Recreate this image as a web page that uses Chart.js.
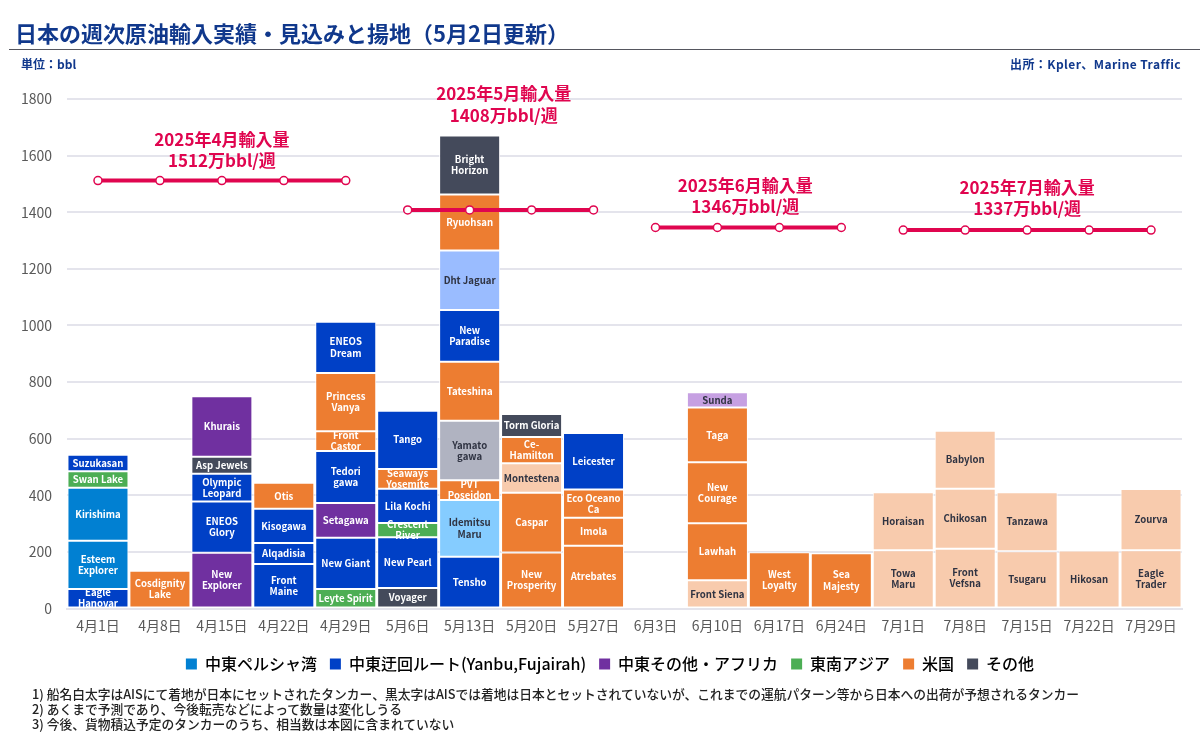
<!DOCTYPE html>
<html lang="ja">
<head>
<meta charset="utf-8">
<title>日本の週次原油輸入実績・見込みと揚地</title>
<script src="https://cdn.jsdelivr.net/npm/chart.js@4/dist/chart.umd.min.js"></script>
<style>
html,body{margin:0;padding:0;background:#fff;width:1200px;height:747px;overflow:hidden}
body{position:relative;font-family:"Noto Sans CJK JP","Noto Sans",sans-serif}
canvas{position:absolute;left:0;top:0}
.t{position:absolute;white-space:nowrap}
#title{left:15px;top:16px;font-size:22px;line-height:32px;font-weight:700;color:#10388c}
#rule{position:absolute;left:9px;right:0;top:49px;height:1px;background:#55565e}
#unit{left:21px;top:55px;font-size:12px;line-height:18px;font-weight:700;color:#10388c}
#source{right:19px;top:55px;font-size:12px;line-height:18px;font-weight:700;color:#10388c;letter-spacing:0.42px}
.note{left:32px;font-size:12.75px;line-height:15px;font-weight:500;color:#222}
</style>
</head>
<body>
<canvas id="c" width="1200" height="747"></canvas>
<div id="title" class="t">日本の週次原油輸入実績・見込みと揚地（5月2日更新）</div>
<div id="rule"></div>
<div id="unit" class="t">単位：bbl</div>
<div id="source" class="t">出所：Kpler、Marine Traffic</div>
<div class="t note" style="top:686px">1) 船名白太字はAISにて着地が日本にセットされたタンカー、黒太字はAISでは着地は日本とセットされていないが、これまでの運航パターン等から日本への出荷が予想されるタンカー</div>
<div class="t note" style="top:701px">2) あくまで予測であり、今後転売などによって数量は変化しうる</div>
<div class="t note" style="top:716px">3) 今後、貨物積込予定のタンカーのうち、相当数は本図に含まれていない</div>
<script>
const weeks = ['4月1日','4月8日','4月15日','4月22日','4月29日','5月6日','5月13日','5月20日','5月27日','6月3日','6月10日','6月17日','6月24日','7月1日','7月8日','7月15日','7月22日','7月29日'];
const yTicks = [0,200,400,600,800,1000,1200,1400,1600,1800];

const _ = null;
const layer1Values = [69,133,197,157,69,72,183,198,222,_,100,199,195,206,211,202,205,206];
const layer1Names = ['Eagle\nHanovar','Cosdignity\nLake','New\nExplorer','Front\nMaine','Leyte Spirit','Voyager','Tensho','New\nProsperity','Atrebates',_,'Front Siena','West\nLoyalty','Sea\nMajesty','Towa\nMaru','Front\nVefsna','Tsugaru','Hikosan','Eagle\nTrader'];
const layer1Groups = ['detour','us','mideast','detour','sea','other','detour','us','us',_,'usPale','us','us','usPale','usPale','usPale','usPale','usPale'];

const layer2Values = [170,_,181,74,181,180,200,211,99,_,201,_,_,205,212,209,_,216];
const layer2Names = ['Esteem\nExplorer',_,'ENEOS\nGlory','Alqadisia','New Giant','New Pearl','Idemitsu\nMaru','Caspar','Imola',_,'Lawhah',_,_,'Horaisan','Chikosan','Tanzawa',_,'Zourva'];
const layer2Groups = ['gulf',_,'detour','detour','detour','detour','gulfPale','us','us',_,'us',_,_,'usPale','usPale','usPale',_,'usPale'];

const layer3Values = [188,_,98,121,123,50,70,104,99,_,216,_,_,_,205,_,_,_];
const layer3Names = ['Kirishima',_,'Olympic\nLeopard','Kisogawa','Setagawa','Crescent\nRiver','PVT\nPoseidon','Montestena','Eco Oceano\nCa',_,'New\nCourage',_,_,_,'Babylon',_,_,_];
const layer3Groups = ['gulf',_,'detour','detour','mideast','sea','us','usPale','us',_,'us',_,_,_,'usPale',_,_,_];

const layer4Values = [58,_,60,92,183,121,210,93,200,_,193,_,_,_,_,_,_,_];
const layer4Names = ['Swan Lake',_,'Asp Jewels','Otis','Tedori\ngawa','Lila Kochi','Yamato\ngawa','Ce-\nHamilton','Leicester',_,'Taga',_,_,_,_,_,_,_];
const layer4Groups = ['sea',_,'other','us','detour','detour','otherPale','us','detour',_,'us',_,_,_,_,_,_,_];

const layer5Values = [58,_,214,_,70,70,209,81,_,_,54,_,_,_,_,_,_,_];
const layer5Names = ['Suzukasan',_,'Khurais',_,'Front\nCastor','Seaways\nYosemite','Tateshina','Torm Gloria',_,_,'Sunda',_,_,_,_,_,_,_];
const layer5Groups = ['detour',_,'mideast',_,'us','us','us','other',_,_,'mideastPale',_,_,_,_,_,_,_];

const layer6Values = [_,_,_,_,206,206,183,_,_,_,_,_,_,_,_,_,_,_];
const layer6Names = [_,_,_,_,'Princess\nVanya','Tango','New\nParadise',_,_,_,_,_,_,_,_,_,_,_];
const layer6Groups = [_,_,_,_,'us','detour','detour',_,_,_,_,_,_,_,_,_,_,_];

const layer7Values = [_,_,_,_,181,_,210,_,_,_,_,_,_,_,_,_,_,_];
const layer7Names = [_,_,_,_,'ENEOS\nDream',_,'Dht Jaguar',_,_,_,_,_,_,_,_,_,_,_];
const layer7Groups = [_,_,_,_,'detour',_,'detourPale',_,_,_,_,_,_,_,_,_,_,_];

const layer8Values = [_,_,_,_,_,_,198,_,_,_,_,_,_,_,_,_,_,_];
const layer8Names = [_,_,_,_,_,_,'Ryuohsan',_,_,_,_,_,_,_,_,_,_,_];
const layer8Groups = [_,_,_,_,_,_,'us',_,_,_,_,_,_,_,_,_,_,_];

const layer9Values = [_,_,_,_,_,_,208,_,_,_,_,_,_,_,_,_,_,_];
const layer9Names = [_,_,_,_,_,_,'Bright\nHorizon',_,_,_,_,_,_,_,_,_,_,_];
const layer9Groups = [_,_,_,_,_,_,'other',_,_,_,_,_,_,_,_,_,_,_];

const aprilAverage = [1512,1512,1512,1512,1512,_,_,_,_,_,_,_,_,_,_,_,_,_];
const mayAverage   = [_,_,_,_,_,1408,1408,1408,1408,_,_,_,_,_,_,_,_,_];
const juneAverage  = [_,_,_,_,_,_,_,_,_,1346,1346,1346,1346,_,_,_,_,_];
const julyAverage  = [_,_,_,_,_,_,_,_,_,_,_,_,_,1337,1337,1337,1337,1337];

const legendLabels = ['中東ペルシャ湾','中東迂回ルート(Yanbu,Fujairah)','中東その他・アフリカ','東南アジア','米国','その他'];
const legendGroups = ['gulf','detour','mideast','sea','us','other'];
const averageTitles = ['2025年4月輸入量','2025年5月輸入量','2025年6月輸入量','2025年7月輸入量'];
const averageTexts = ['1512万bbl/週','1408万bbl/週','1346万bbl/週','1337万bbl/週'];

const groupColors = {
  gulf:'#0180d2', detour:'#0040c6', mideast:'#7030a0', sea:'#4cae54', us:'#ed7d31', other:'#444a5b',
  gulfPale:'#85ccff', detourPale:'#9abcff', mideastPale:'#c6a0e2', usPale:'#f8cbad', otherPale:'#b0b3c1'
};
const paleGroups = ['gulfPale','detourPale','mideastPale','usPale','otherPale'];
const FONT = '"Noto Sans CJK JP","Noto Sans",sans-serif';
const CRIMSON = '#e0054f';

const layers = [
  [layer1Values,layer1Names,layer1Groups],[layer2Values,layer2Names,layer2Groups],[layer3Values,layer3Names,layer3Groups],
  [layer4Values,layer4Names,layer4Groups],[layer5Values,layer5Names,layer5Groups],[layer6Values,layer6Names,layer6Groups],
  [layer7Values,layer7Names,layer7Groups],[layer8Values,layer8Names,layer8Groups],[layer9Values,layer9Names,layer9Groups]
];

const barDatasets = layers.map(([values,names,groups],i)=>({
  type:'bar', label:'layer'+(i+1), data:values, shipNames:names, shipGroups:groups, stack:'ships', order:1,
  backgroundColor:groups.map(g=>g?groupColors[g]:'transparent'),
  borderColor:'#ffffff', borderWidth:1, borderSkipped:false,
  barPercentage:0.985, categoryPercentage:1
}));
const lineDatasets = [aprilAverage,mayAverage,juneAverage,julyAverage].map((values,i)=>({
  type:'line', label:averageTitles[i], data:values, stack:'avg'+i, order:0,
  borderColor:CRIMSON, borderWidth:4, pointRadius:4, pointBorderWidth:1.5,
  pointBackgroundColor:'#ffffff', pointBorderColor:CRIMSON, spanGaps:false, tension:0
}));

const shipLabels = {
  id:'shipLabels',
  afterDatasetsDraw(chart){
    const ctx = chart.ctx;
    ctx.save();
    ctx.textAlign='center'; ctx.textBaseline='middle';
    ctx.font='700 9.6px '+FONT;
    chart.data.datasets.forEach((ds,di)=>{
      if(ds.type!=='bar') return;
      const meta=chart.getDatasetMeta(di);
      meta.data.forEach((bar,i)=>{
        const name=ds.shipNames[i];
        if(!name) return;
        const p=bar.getProps(['x','y','base'],true);
        const cy=(p.y+p.base)/2;
        const lines=name.split('\n');
        ctx.fillStyle=paleGroups.includes(ds.shipGroups[i])?'#2f3342':'#ffffff';
        lines.forEach((l,k)=>ctx.fillText(l,p.x,cy+(k-(lines.length-1)/2)*11.2));
      });
    });
    ctx.restore();
  }
};

const averageLabels = {
  id:'averageLabels',
  afterDraw(chart){
    const ctx=chart.ctx, xs=chart.scales.x, ys=chart.scales.y;
    const anchors=[[2,1512,-41,-20],[6.55,1408,-116,-94],[10.45,1346,-42,-21],[15,1337,-43,-22]];
    ctx.save();
    ctx.textAlign='center'; ctx.textBaseline='middle';
    ctx.font='700 17px '+FONT;
    ctx.fillStyle=CRIMSON;
    anchors.forEach(([ix,val,dy1,dy2],i)=>{
      const x=xs.left+(ix+0.5)*(xs.width/weeks.length), y=ys.getPixelForValue(val);
      ctx.fillText(averageTitles[i],x,y+dy1);
      ctx.fillText(averageTexts[i],x,y+dy2);
    });
    ctx.restore();
  }
};

const legendShift = {
  id:'legendShift',
  afterLayout(chart){ chart.legend.left+=19; chart.legend.right+=19; }
};

new Chart(document.getElementById('c'),{
  data:{labels:weeks,datasets:[...barDatasets,...lineDatasets]},
  plugins:[shipLabels,averageLabels,legendShift],
  options:{
    responsive:false, animation:false,
    layout:{padding:{top:99,left:0,right:18,bottom:65}},
    plugins:{
      tooltip:{enabled:false},
      legend:{
        position:'bottom',
        onClick:null,
        labels:{
          boxWidth:11, boxHeight:11, padding:13, color:'#222',
          font:{family:FONT,size:16,weight:'500'},
          generateLabels:()=>legendLabels.map((text,i)=>({text,fillStyle:groupColors[legendGroups[i]],strokeStyle:groupColors[legendGroups[i]],lineWidth:0,hidden:false,datasetIndex:0}))
        }
      }
    },
    scales:{
      x:{
        stacked:true,
        grid:{display:false,drawTicks:false},
        border:{display:true,color:'#e4e4ec',width:2},
        ticks:{color:'#595959',font:{family:FONT,size:14},padding:9,maxRotation:0,autoSkip:false},
        afterFit(s){s.height=34.5;}
      },
      y:{
        stacked:true, min:0, max:1800,
        afterBuildTicks(s){s.ticks=yTicks.map(value=>({value}));},
        grid:{color:'#e4e4ec',lineWidth:2,drawTicks:false},
        border:{display:false},
        ticks:{color:'#595959',font:{family:FONT,size:14},padding:15,callback:v=>String(v)},
        afterFit(s){s.width=67;}
      }
    }
  }
});
</script>
</body>
</html>
